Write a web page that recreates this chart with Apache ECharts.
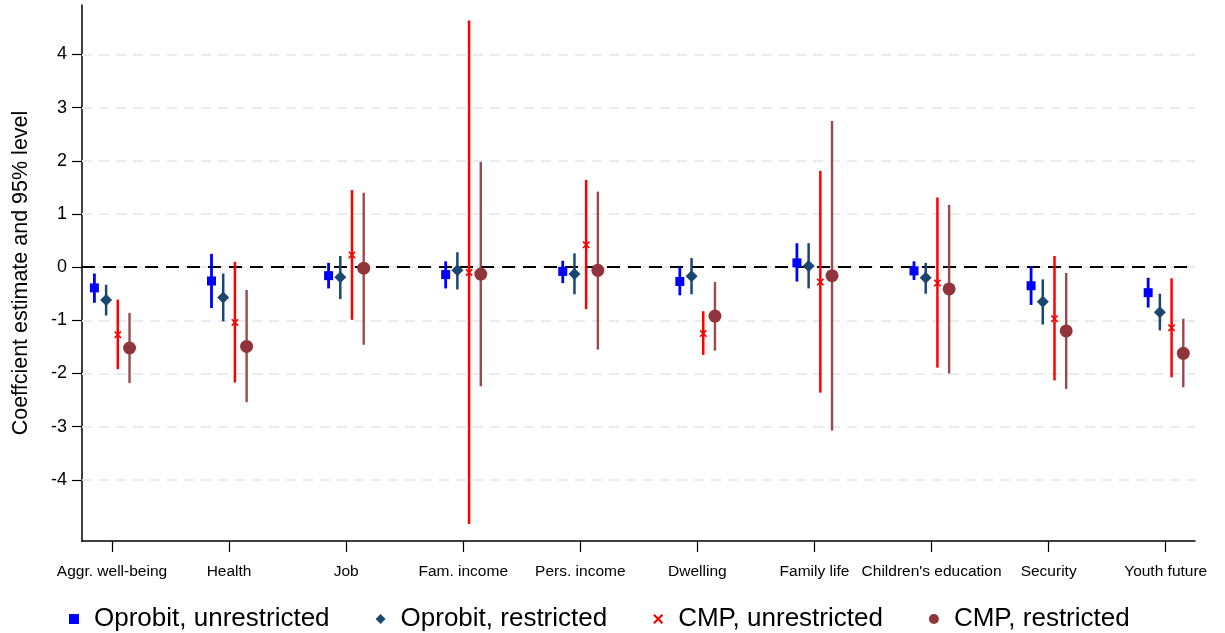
<!DOCTYPE html>
<html>
<head>
<meta charset="utf-8">
<script src="https://cdn.jsdelivr.net/npm/echarts@6/dist/echarts.min.js"></script>
<style>html,body{margin:0;padding:0;background:#fff}#c{width:1225px;height:633px}</style>
</head>
<body>
<div id="c"></div>
<script>
const categories = ["Aggr. well-being","Health","Job","Fam. income","Pers. income","Dwelling","Family life","Children's education","Security","Youth future"];
const yTicks = [-4,-3,-2,-1,0,1,2,3,4];

const seriesNames = ["Oprobit, unrestricted","Oprobit, restricted","CMP, unrestricted","CMP, restricted"];

const oprobitUnrEst = [-0.39,-0.26,-0.16,-0.14,-0.08,-0.27,0.08,-0.07,-0.35,-0.48];
const oprobitUnrLo  = [-0.67,-0.77,-0.40,-0.40,-0.30,-0.53,-0.27,-0.24,-0.71,-0.76];
const oprobitUnrHi  = [-0.12,0.25,0.08,0.11,0.12,0.00,0.45,0.11,0.02,-0.20];

const oprobitResEst = [-0.62,-0.57,-0.19,-0.06,-0.13,-0.17,0.02,-0.20,-0.65,-0.85];
const oprobitResLo  = [-0.91,-1.02,-0.60,-0.42,-0.51,-0.51,-0.40,-0.50,-1.08,-1.19];
const oprobitResHi  = [-0.33,-0.12,0.21,0.28,0.26,0.17,0.45,0.08,-0.23,-0.50];

const cmpUnrEst = [-1.27,-1.04,0.23,-0.10,0.42,-1.25,-0.28,-0.30,-0.97,-1.14];
const cmpUnrLo  = [-1.92,-2.17,-0.99,-4.83,-0.79,-1.65,-2.36,-1.89,-2.13,-2.07];
const cmpUnrHi  = [-0.61,0.10,1.45,4.64,1.64,-0.83,1.81,1.31,0.21,-0.21];

const cmpResEst = [-1.52,-1.49,-0.02,-0.13,-0.06,-0.92,-0.16,-0.41,-1.20,-1.62];
const cmpResLo  = [-2.18,-2.54,-1.46,-2.24,-1.55,-1.57,-3.07,-2.00,-2.29,-2.26];
const cmpResHi  = [-0.86,-0.43,1.40,1.98,1.42,-0.28,2.75,1.17,-0.11,-0.97];

const models = [
  {est: oprobitUnrEst, lo: oprobitUnrLo, hi: oprobitUnrHi},
  {est: oprobitResEst, lo: oprobitResLo, hi: oprobitResHi},
  {est: cmpUnrEst, lo: cmpUnrLo, hi: cmpUnrHi},
  {est: cmpResEst, lo: cmpResLo, hi: cmpResHi}
];

const offsets = [-0.15, -0.05, 0.05, 0.15];
const colors = ['#0000ff', '#1a476f', '#ff0000', '#90353b'];
const whiskerColors = ['#0000ff', '#1a476f', '#ff0000', 'rgba(144,53,59,0.9)'];
const whiskerWidths = [2.8, 2.5, 2.5, 2.4];
const xPath = 'path://M1.5,0 L5,3.5 L8.5,0 L10,1.5 L6.5,5 L10,8.5 L8.5,10 L5,6.5 L1.5,10 L0,8.5 L3.5,5 L0,1.5 Z';
const symbols = ['rect', 'diamond', xPath, 'circle'];
const symbolSizes = [9, [12, 12], 7.5, 13];
const FONT = 'Liberation Sans, Arial, Helvetica, sans-serif';

const series = [];
series.push({
  type: 'line', data: [], silent: true, z: 1,
  markLine: {
    silent: true, symbol: 'none', label: {show: false}, z: 1, animation: false,
    lineStyle: {color: '#ececec', type: [10, 7], width: 2},
    data: yTicks.map(v => ({yAxis: v}))
  }
});
series.push({
  type: 'line', data: [], silent: true, z: 2,
  markLine: {
    silent: true, symbol: 'none', label: {show: false}, z: 2, animation: false,
    lineStyle: {color: '#000', type: [13, 8], width: 2.2},
    data: [{yAxis: 0}]
  }
});

models.forEach((m, k) => {
  series.push({
    name: 'ci' + k,
    type: 'custom',
    data: categories.map((c, i) => [i + offsets[k], m.lo[i], m.hi[i]]),
    encode: {x: 0, y: [1, 2]},
    z: 10,
    silent: true,
    renderItem: function (params, api) {
      const p1 = api.coord([api.value(0), api.value(1)]);
      const p2 = api.coord([api.value(0), api.value(2)]);
      return {
        type: 'line',
        shape: {x1: p1[0], y1: p1[1], x2: p2[0], y2: p2[1]},
        style: {stroke: whiskerColors[k], lineWidth: whiskerWidths[k]}
      };
    }
  });
});
models.forEach((m, k) => {
  series.push({
    name: seriesNames[k],
    type: 'scatter',
    symbol: symbols[k],
    symbolSize: symbolSizes[k],
    itemStyle: {color: colors[k], opacity: 1},
    data: categories.map((c, i) => [i + offsets[k], m.est[i]]),
    z: 11
  });
});

const chart = echarts.init(document.getElementById('c'), null, {renderer: 'canvas'});
chart.setOption({
  animation: false,
  backgroundColor: '#fff',
  grid: {left: 82, right: 30, top: 5, bottom: 92, containLabel: false},
  xAxis: {
    type: 'value', min: -0.256, max: 9.25,
    axisLine: {show: true, onZero: false, lineStyle: {color: '#000', width: 1.5}},
    axisTick: {show: true, length: 11, customValues: categories.map((c, i) => i), lineStyle: {color: '#000', width: 1.2}},
    axisLabel: {show: true, customValues: categories.map((c, i) => i), formatter: v => categories[Math.round(v)] || '', color: '#000', fontSize: 15.5, fontFamily: FONT, margin: 23},
    splitLine: {show: false}
  },
  yAxis: {
    type: 'value', min: -5.15, max: 4.93,
    name: 'Coeffcient estimate and 95% level',
    nameLocation: 'middle', nameGap: 50, nameRotate: 90,
    nameTextStyle: {color: '#000', fontSize: 21.5, fontFamily: FONT},
    axisLine: {show: true, onZero: false, lineStyle: {color: '#000', width: 1.5}},
    axisTick: {show: true, length: 10, customValues: yTicks, lineStyle: {color: '#000', width: 1.2}},
    axisLabel: {show: true, customValues: yTicks, color: '#000', fontSize: 18, fontFamily: FONT, margin: 15},
    splitLine: {show: false}
  },
  legend: {
    data: seriesNames.map((n, k) => ({name: n, icon: symbols[k]})),
    top: 601, left: 64,
    itemWidth: 10, itemHeight: 10, itemGap: 46,
    textStyle: {color: '#000', fontSize: 26, fontFamily: FONT, padding: [0, 0, 0, 10]}
  },
  series: series
});
</script>
</body>
</html>
